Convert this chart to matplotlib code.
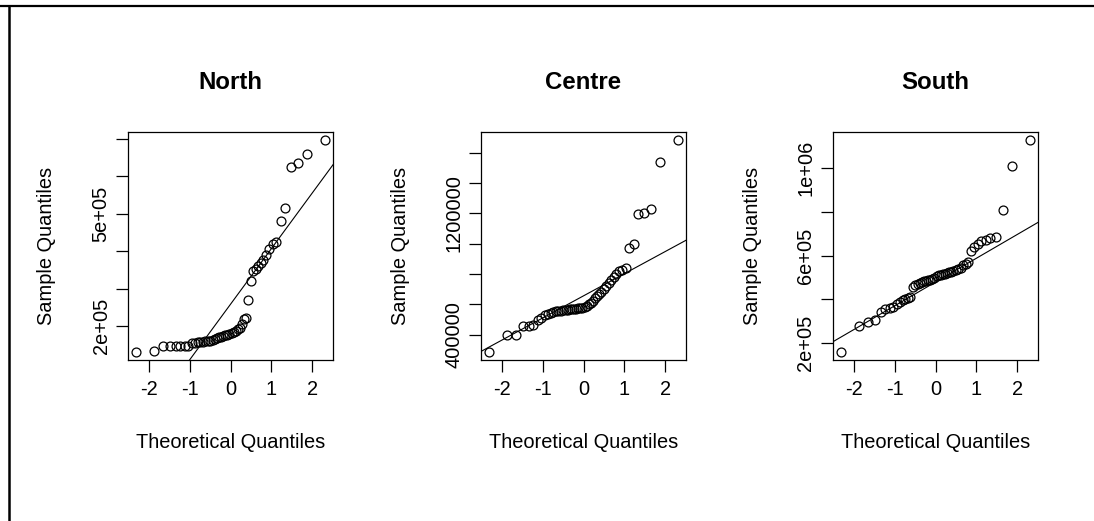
import matplotlib
matplotlib.use("Agg")
import matplotlib.pyplot as plt
from matplotlib.lines import Line2D
from statistics import NormalDist
import numpy as np

plt.rcParams["font.family"] = ["Liberation Sans", "DejaVu Sans"]

# sorted sample values for each region
north = [132000, 133000, 147000, 147000, 147000, 147000, 148000, 148000, 155000, 156000,
         157000, 158000, 158000, 159000, 160000, 160000, 162000, 165000, 168000, 170000,
         172000, 174000, 176000, 177000, 180000, 182000, 185000, 188000, 192000, 196000,
         205000, 218000, 222000, 270000, 320000, 346000, 352000, 360000, 368000, 376000,
         390000, 405000, 420000, 425000, 480000, 515000, 625000, 635000, 660000, 695000]

centre = [290000, 400000, 400000, 455000, 460000, 465000, 500000, 510000, 530000, 535000,
          545000, 550000, 558000, 560000, 560000, 562000, 563000, 565000, 567000, 568000,
          570000, 572000, 574000, 576000, 580000, 585000, 590000, 600000, 610000, 625000,
          640000, 655000, 670000, 685000, 700000, 720000, 740000, 760000, 780000, 800000,
          820000, 830000, 840000, 970000, 1000000, 1195000, 1205000, 1230000, 1540000, 1680000]

south = [162000, 279000, 299000, 305000, 343000, 355000, 360000, 367000, 378000, 390000,
         398000, 400000, 405000, 410000, 455000, 465000, 472000, 477000, 480000, 482000,
         485000, 487000, 490000, 495000, 500000, 505000, 510000, 512000, 515000, 518000,
         520000, 523000, 527000, 530000, 535000, 540000, 545000, 555000, 562000, 570000,
         620000, 640000, 655000, 665000, 672000, 680000, 685000, 807000, 1010000, 1126000]

titles = ["North", "Centre", "South"]
samples = [north, centre, south]

x_ticks = [-2, -1, 0, 1, 2]
y_ticks = [[200000, 300000, 400000, 500000, 600000, 700000],
           [400000, 600000, 800000, 1000000, 1200000, 1400000, 1600000],
           [200000, 400000, 600000, 800000, 1000000]]
y_labels = [["2e+05", "", "", "5e+05", "", ""],
            ["400000", "", "", "", "1200000", "", ""],
            ["2e+05", "", "6e+05", "", "1e+06"]]

W, H = 1094, 521
fig = plt.figure(figsize=(W / 100, H / 100), dpi=100)

# frame lines along top and left edge
fig.add_artist(Line2D([0, 1], [1 - 6 / H, 1 - 6 / H], transform=fig.transFigure,
                      color="black", lw=1.6))
fig.add_artist(Line2D([8.5 / W, 8.5 / W], [0, 1 - 6 / H], transform=fig.transFigure,
                      color="black", lw=1.8))

lefts = [128, 481, 833]
ax_w, ax_top, ax_bot = 205, 132, 360
nd = NormalDist()

for k in range(3):
    ax = fig.add_axes([lefts[k] / W, (H - ax_bot) / H, ax_w / W, (ax_bot - ax_top) / H])
    y = np.sort(np.array(samples[k], dtype=float))
    n = len(y)
    q = np.array([nd.inv_cdf((i - 0.5) / n) for i in range(1, n + 1)])

    ax.plot(q, y, "o", mfc="none", mec="black", ms=6.4, mew=0.9)
    ax.margins(x=0.04, y=0.04)

    # reference line through the quartiles
    yq = np.quantile(y, [0.25, 0.75])
    xq = [nd.inv_cdf(0.25), nd.inv_cdf(0.75)]
    slope = (yq[1] - yq[0]) / (xq[1] - xq[0])
    ax.axline((xq[0], yq[0]), slope=slope, color="black", lw=0.8)

    ax.set_xticks(x_ticks)
    ax.set_xticklabels([str(t) for t in x_ticks])
    ax.set_yticks(y_ticks[k])
    ax.set_yticklabels(y_labels[k], rotation=90, va="center")

    ax.tick_params(direction="out", length=8.6, width=0.9, labelsize=14.4,
                   colors="black")
    ax.tick_params(axis="x", pad=6)
    ax.tick_params(axis="y", pad=4)
    for s in ax.spines.values():
        s.set_linewidth(0.9)

    ax.set_title(titles[k], fontsize=17.3, fontweight="bold", pad=31)
    ax.set_xlabel("Theoretical Quantiles", fontsize=14.4)
    ax.set_ylabel("Sample Quantiles", fontsize=14.4)
    ax.xaxis.set_label_coords(0.5, -(442 - ax_bot) / (ax_bot - ax_top))
    ax.xaxis.label.set_va("center")
    ax.yaxis.set_label_coords(-81 / ax_w, 0.5)
    ax.yaxis.label.set_va("center")

fig.savefig("out.png", dpi=100)
